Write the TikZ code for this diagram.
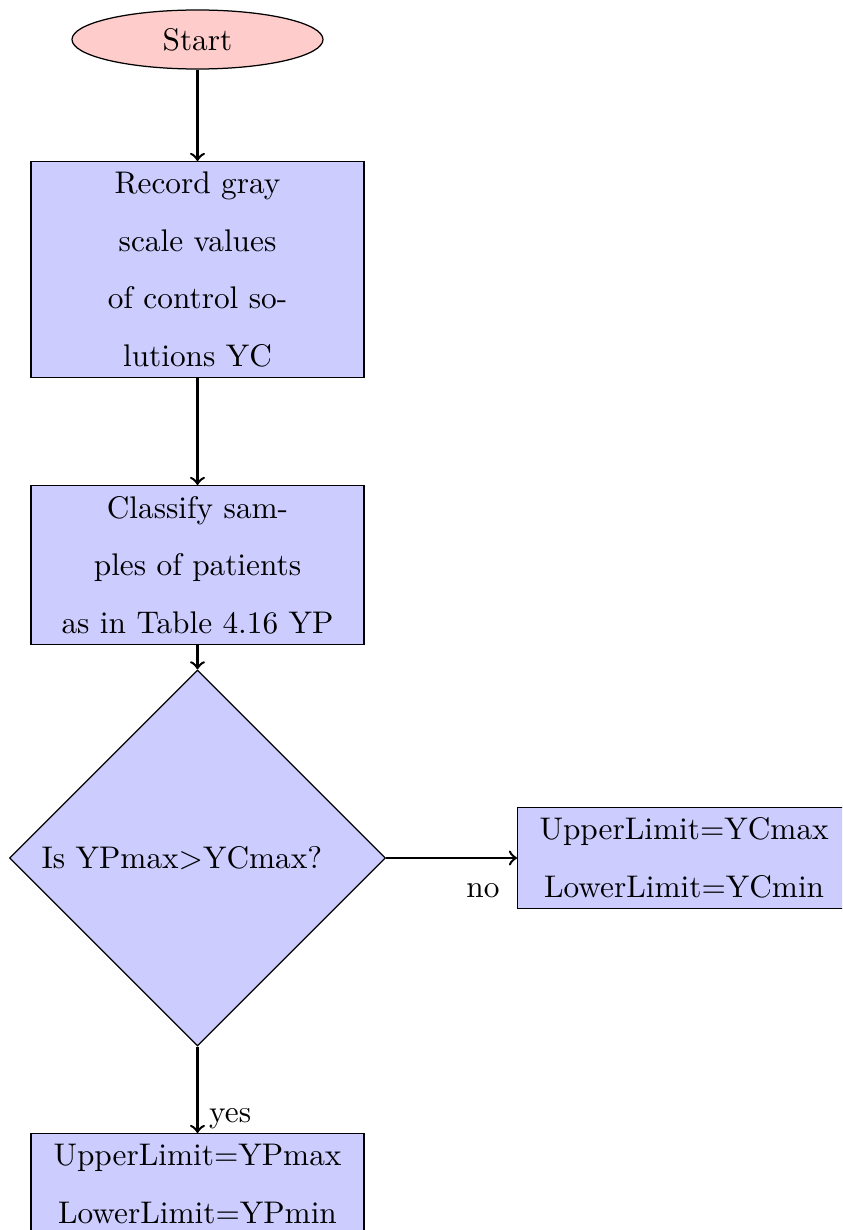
\documentclass[tikz,border=0pt]{standalone}
\usetikzlibrary{shapes.geometric}
\newdimen\pxu \pxu=0.3195pt
\begin{document}
\begin{tikzpicture}[x={(\pxu,0)}, y={(0,-\pxu)},
  every node/.style={font=\fontsize{10}{18.4}\selectfont},
  startstop/.style={ellipse, draw, fill=red!20, minimum width=251\pxu, minimum height=59\pxu, inner sep=0pt},
  procbox/.style={rectangle, draw, fill=blue!20, minimum width=333\pxu, align=center},
  decis/.style={diamond, draw, fill=blue!20, minimum width=376\pxu, minimum height=376\pxu, inner sep=0pt, text width=3.5cm, align=left},
  arr/.style={->, thick}]
\useasboundingbox (0,0) rectangle (842,1230);
\clip (0,0) rectangle (842,1230);
\node[startstop] (start) at (197.5,39.5) {Start};
\node[procbox, anchor=north] (rec) at (197.5,161) {Record gray\\scale values\\of control so-\\lutions YC};
\node[procbox, anchor=north] (cls) at (197.5,485) {Classify sam-\\ples of patients\\as in Table 4.16 YP};
\node[decis] (dec) at (197.5,858) {Is YPmax>YCmax?};
\node[procbox, anchor=west] (yc) at (517,858) {UpperLimit=YCmax\\LowerLimit=YCmin};
\node[procbox, anchor=north] (yp) at (197.5,1133) {UpperLimit=YPmax\\LowerLimit=YPmin};
\draw[arr] (start) -- (rec);
\draw[arr] (rec) -- (cls);
\draw[arr] (cls) -- (dec);
\draw[arr] (dec.east) -- (yc.west) node[pos=0.74, anchor=base, yshift=-39\pxu] {no};
\draw[arr] (dec.south) -- (yp.north) node[pos=0.84, right] {yes};
\end{tikzpicture}
\end{document}
